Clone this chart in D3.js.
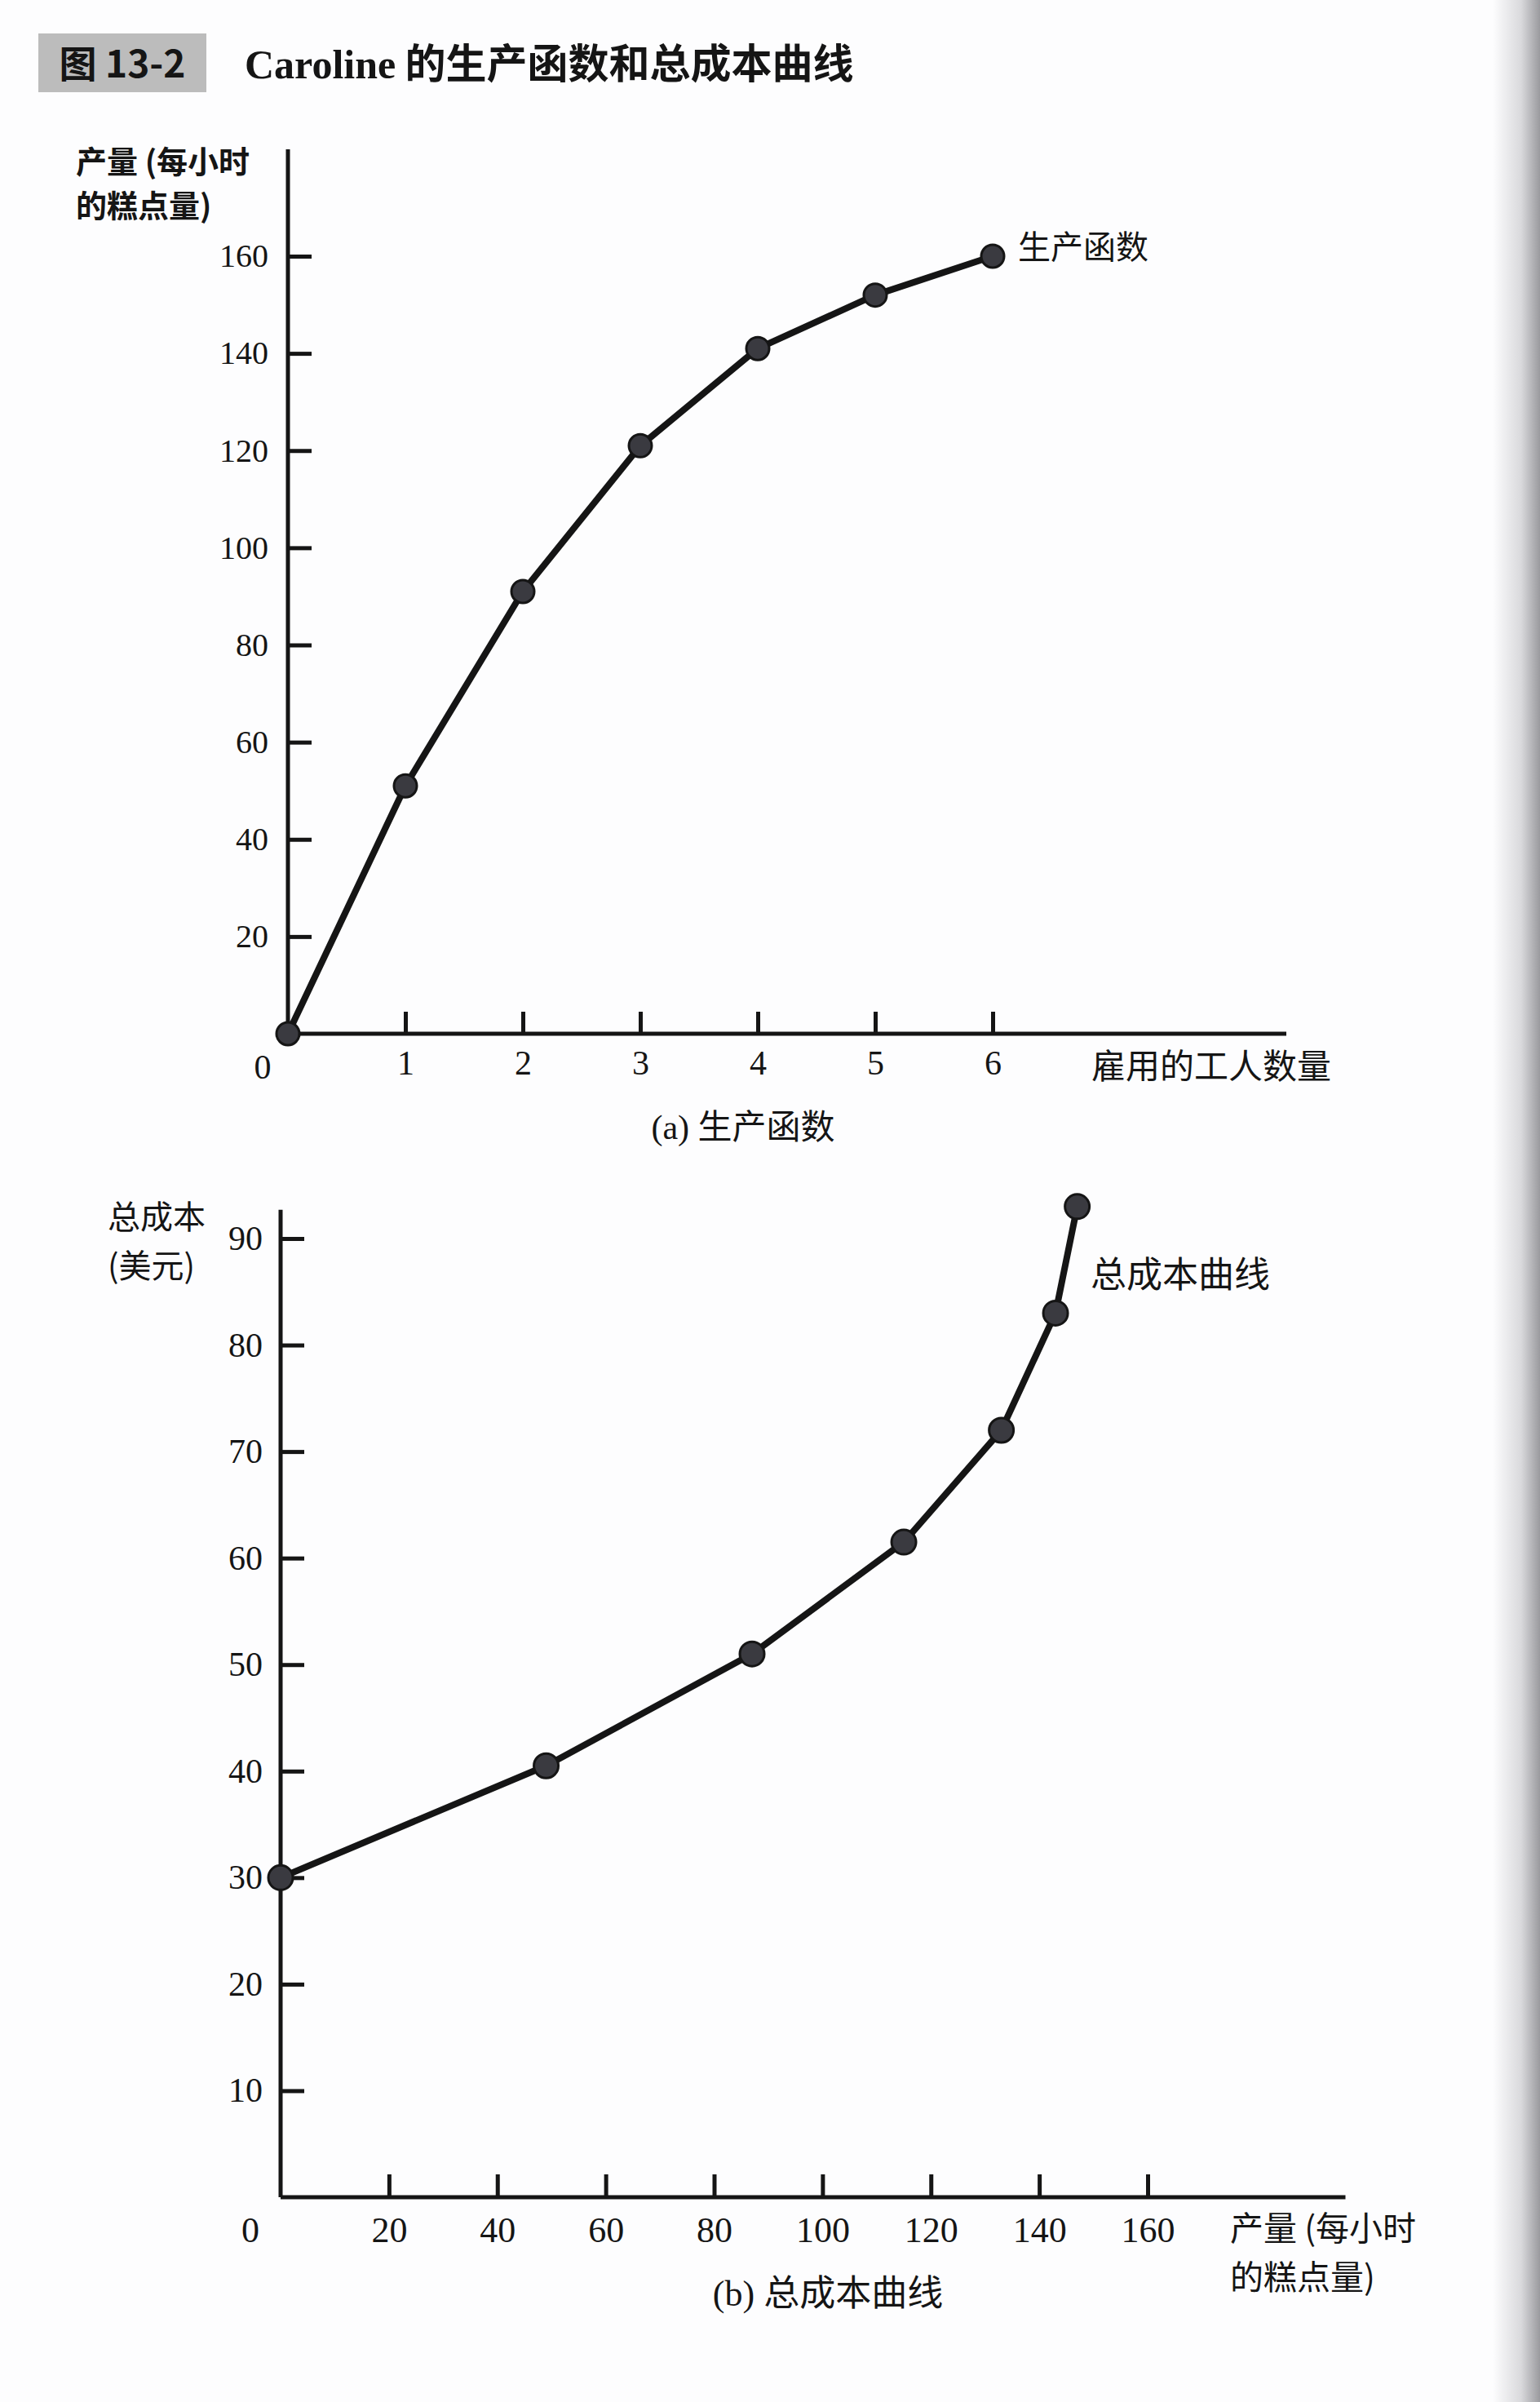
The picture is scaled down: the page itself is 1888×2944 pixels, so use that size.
<!DOCTYPE html>
<html>
<head>
<meta charset="utf-8">
<script src="https://cdn.jsdelivr.net/npm/d3@7"></script>
<style>
  html, body { margin: 0; padding: 0; background: #fdfdfe; }
  svg { display: block; }
</style>
</head>
<body>
<svg id="chart" width="1888" height="2944"></svg>
<script>
// ---------- data ----------
const workers = [0, 1, 2, 3, 4, 5, 6];
const output = [0, 51, 91, 121, 141, 152, 160];          // cakes per hour
const quantity = [0, 49, 87, 115, 133, 143, 147];         // panel (b) x
const totalCost = [30, 40.5, 51, 61.5, 72, 83, 93];       // panel (b) y, dollars
const topYTicks = [20, 40, 60, 80, 100, 120, 140, 160];
const topXTicks = [1, 2, 3, 4, 5, 6];
const botYTicks = [10, 20, 30, 40, 50, 60, 70, 80, 90];
const botXTicks = [20, 40, 60, 80, 100, 120, 140, 160];

const titleTag = "图 13-2";
const titleLatin = "Caroline";
const titleCJK = " 的生产函数和总成本曲线";

const svg = d3.select("#chart");
const INK = "#151515";
const serif = "'Liberation Serif', 'DejaVu Serif', serif";
const cjk = "'Noto Sans CJK SC', 'Noto Sans', sans-serif";

// page shadow at right edge (photo)
const defs = svg.append("defs");
const g1 = defs.append("linearGradient").attr("id", "edge").attr("x1", 0).attr("x2", 1);
g1.append("stop").attr("offset", 0).attr("stop-color", "#fdfdfe");
g1.append("stop").attr("offset", 0.6).attr("stop-color", "#d9d9dc");
g1.append("stop").attr("offset", 1).attr("stop-color", "#9a9a9e");
svg.append("rect").attr("x", 1830).attr("y", 0).attr("width", 58).attr("height", 2944).attr("fill", "url(#edge)");

// ---------- title ----------
svg.append("rect").attr("x", 47).attr("y", 41).attr("width", 206).attr("height", 72)
  .attr("fill", "#bcbcbc");
svg.append("text").attr("x", 150).attr("y", 95).attr("text-anchor", "middle")
  .attr("font-family", cjk).attr("font-weight", 700).attr("font-size", 46).attr("fill", INK)
  .text(titleTag);
const tt = svg.append("text").attr("x", 300).attr("y", 96)
  .attr("font-weight", 700).attr("font-size", 50).attr("fill", INK);
tt.append("tspan").attr("font-family", serif).text(titleLatin);
tt.append("tspan").attr("font-family", cjk).text(titleCJK);

// ---------- helper ----------
function styleAxis(g, size) {
  g.select(".domain").remove();
  g.selectAll(".tick line").attr("stroke", INK).attr("stroke-width", 5);
  g.selectAll(".tick text").attr("font-family", serif).attr("font-size", size).attr("fill", INK);
}

// ---------- panel (a): production function ----------
const xa = d3.scaleLinear().domain([0, 6]).range([353, 1217]);
const ya = d3.scaleLinear().domain([0, 160]).range([1267, 314]);
const xaMax = 8.5, yaMax = 182;

svg.append("line").attr("x1", xa(0)).attr("x2", xa(0)).attr("y1", ya(yaMax)).attr("y2", ya(0))
  .attr("stroke", INK).attr("stroke-width", 5);
svg.append("line").attr("x1", xa(0)).attr("x2", xa(xaMax)).attr("y1", ya(0)).attr("y2", ya(0))
  .attr("stroke", INK).attr("stroke-width", 5);

svg.append("g").attr("transform", `translate(${xa(0)},0)`)
  .call(d3.axisLeft(ya).tickValues(topYTicks).tickFormat(d3.format("d"))
    .tickSizeInner(-29).tickSizeOuter(0).tickPadding(24))
  .call(g => styleAxis(g, 40));
svg.append("g").attr("transform", `translate(0,${ya(0)})`)
  .call(d3.axisBottom(xa).tickValues(topXTicks).tickFormat(d3.format("d"))
    .tickSizeInner(-27).tickSizeOuter(0).tickPadding(20))
  .call(g => styleAxis(g, 42));
svg.append("text").attr("x", 322).attr("y", 1322).attr("text-anchor", "middle")
  .attr("font-family", serif).attr("font-size", 42).attr("fill", INK).text("0");

const ptsA = workers.map((w, i) => [w, output[i]]);
svg.append("path").datum(ptsA)
  .attr("d", d3.line().x(d => xa(d[0])).y(d => ya(d[1])))
  .attr("fill", "none").attr("stroke", INK).attr("stroke-width", 8).attr("stroke-linejoin", "round");
svg.append("g").selectAll("circle").data(ptsA).join("circle")
  .attr("cx", d => xa(d[0])).attr("cy", d => ya(d[1])).attr("r", 14)
  .attr("fill", "#3a3a40").attr("stroke", INK).attr("stroke-width", 3);

// labels (a)
svg.append("text").attr("x", 93).attr("y", 212).attr("font-family", cjk).attr("font-weight", 700)
  .attr("font-size", 38).attr("fill", INK).text("产量 (每小时");
svg.append("text").attr("x", 93).attr("y", 266).attr("font-family", cjk).attr("font-weight", 700)
  .attr("font-size", 38).attr("fill", INK).text("的糕点量)");
svg.append("text").attr("x", 1248).attr("y", 317).attr("font-family", cjk)
  .attr("font-size", 40).attr("fill", INK).text("生产函数");
svg.append("text").attr("x", 1338).attr("y", 1322).attr("font-family", cjk)
  .attr("font-size", 42).attr("fill", INK).text("雇用的工人数量");
const capA = svg.append("text").attr("x", 911).attr("y", 1396).attr("text-anchor", "middle")
  .attr("font-size", 42).attr("fill", INK);
capA.append("tspan").attr("font-family", serif).text("(a) ");
capA.append("tspan").attr("font-family", cjk).text("生产函数");

// ---------- panel (b): total cost curve ----------
const xb = d3.scaleLinear().domain([0, 160]).range([344, 1407]);
const yb = d3.scaleLinear().domain([0, 90]).range([2693, 1518]);
const xbMax = 196.5, ybMax = 92.7;

svg.append("line").attr("x1", xb(0)).attr("x2", xb(0)).attr("y1", yb(ybMax)).attr("y2", yb(0))
  .attr("stroke", INK).attr("stroke-width", 5);
svg.append("line").attr("x1", xb(0)).attr("x2", xb(xbMax)).attr("y1", yb(0)).attr("y2", yb(0))
  .attr("stroke", INK).attr("stroke-width", 5);

svg.append("g").attr("transform", `translate(${xb(0)},0)`)
  .call(d3.axisLeft(yb).tickValues(botYTicks).tickFormat(d3.format("d"))
    .tickSizeInner(-29).tickSizeOuter(0).tickPadding(22))
  .call(g => styleAxis(g, 42));
svg.append("g").attr("transform", `translate(0,${yb(0)})`)
  .call(d3.axisBottom(xb).tickValues(botXTicks).tickFormat(d3.format("d"))
    .tickSizeInner(-28).tickSizeOuter(0).tickPadding(24))
  .call(g => styleAxis(g, 44));
svg.append("text").attr("x", 307).attr("y", 2748).attr("text-anchor", "middle")
  .attr("font-family", serif).attr("font-size", 44).attr("fill", INK).text("0");

const ptsB = quantity.map((q, i) => [q, totalCost[i]]);
svg.append("path").datum(ptsB)
  .attr("d", d3.line().x(d => xb(d[0])).y(d => yb(d[1])))
  .attr("fill", "none").attr("stroke", INK).attr("stroke-width", 8).attr("stroke-linejoin", "round");
svg.append("g").selectAll("circle").data(ptsB).join("circle")
  .attr("cx", d => xb(d[0])).attr("cy", d => yb(d[1])).attr("r", 15)
  .attr("fill", "#3a3a40").attr("stroke", INK).attr("stroke-width", 3);

// labels (b)
svg.append("text").attr("x", 132).attr("y", 1506).attr("font-family", cjk)
  .attr("font-size", 40).attr("fill", INK).text("总成本");
svg.append("text").attr("x", 132).attr("y", 1566).attr("font-family", cjk)
  .attr("font-size", 40).attr("fill", INK).text("(美元)");
svg.append("text").attr("x", 1337).attr("y", 1578).attr("font-family", cjk)
  .attr("font-size", 44).attr("fill", INK).text("总成本曲线");
svg.append("text").attr("x", 1508).attr("y", 2746).attr("font-family", cjk)
  .attr("font-size", 41).attr("fill", INK).text("产量 (每小时");
svg.append("text").attr("x", 1508).attr("y", 2806).attr("font-family", cjk)
  .attr("font-size", 41).attr("fill", INK).text("的糕点量)");
const capB = svg.append("text").attr("x", 1015).attr("y", 2826).attr("text-anchor", "middle")
  .attr("font-size", 44).attr("fill", INK);
capB.append("tspan").attr("font-family", serif).text("(b) ");
capB.append("tspan").attr("font-family", cjk).text("总成本曲线");
</script>
</body>
</html>
